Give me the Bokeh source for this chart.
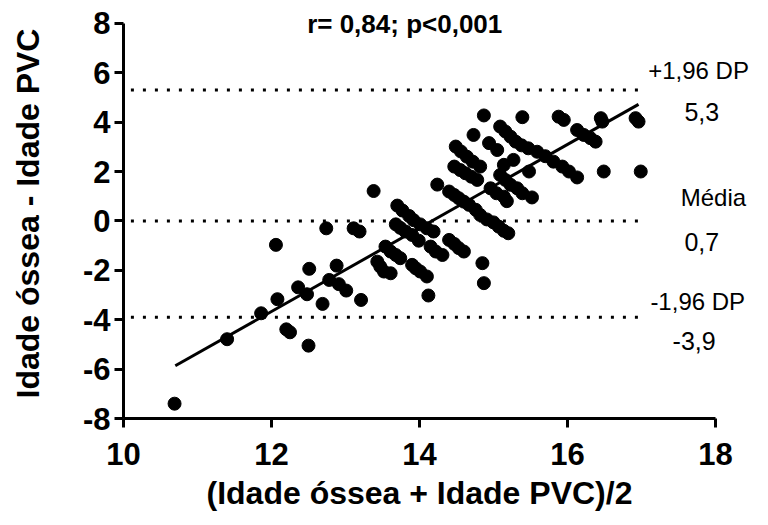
from bokeh.plotting import figure
from bokeh.models import Range1d, Label, FixedTicker, Title
from bokeh.embed import file_html
from bokeh.resources import INLINE

# ---- data ----
x_mean = [
    10.69, 11.40, 11.86, 12.06, 12.08, 12.20, 12.25, 12.36, 12.48, 12.51, 12.50,
    12.74, 12.69, 12.78, 12.88, 12.91, 13.01, 13.11, 13.19, 13.21, 13.38,
    13.43, 13.47, 13.52, 13.61, 13.54, 13.61, 13.68, 13.74,
    13.70, 13.77, 13.86, 13.92, 14.01, 14.10, 14.19,
    13.68, 13.74, 13.81, 13.90, 13.99, 14.15, 14.22, 14.31,
    13.90, 13.95, 14.01, 14.10, 14.12, 14.24,
    14.40, 14.47, 14.53, 14.60, 14.85, 14.87,
    14.40, 14.47, 14.53, 14.60, 14.67, 14.76, 14.82, 14.91,
    15.00, 15.07, 15.14, 15.20,
    14.49, 14.56, 14.64, 14.72, 14.82,
    14.47, 14.55, 14.62, 14.70, 14.78,
    14.73, 14.87, 14.94, 15.05, 14.96, 15.04, 15.14, 15.18, 15.39,
    15.09, 15.16, 15.23, 15.32, 15.39, 15.27, 15.14, 15.48, 15.52,
    15.09, 15.16, 15.23, 15.30, 15.38, 15.47, 15.59, 15.70, 15.81, 15.93, 16.02, 16.13,
    15.88, 15.95, 16.13, 16.22, 16.31, 16.38, 16.45, 16.47, 16.92, 16.96, 16.49, 16.99,
]
y_diff = [
    -7.40, -4.79, -3.74, -0.97, -3.17, -4.39, -4.51, -2.69, -2.97, -1.94, -5.05,
    -0.30, -3.36, -2.39, -1.81, -2.56, -2.82, -0.30, -0.43, -3.20, 1.21,
    -1.65, -1.85, -2.05, -2.12, -1.04, -1.24, -1.38, -1.51,
    0.62, 0.42, 0.20, 0.03, -0.14, -0.30, -0.43,
    -0.14, -0.28, -0.43, -0.57, -0.80, -1.04, -1.24, -1.38,
    -1.78, -1.92, -2.05, -2.25, -3.02, 1.47,
    -0.77, -0.93, -1.10, -1.24, -1.71, -2.52,
    1.19, 1.05, 0.92, 0.78, 0.65, 0.45, 0.24, 0.06,
    -0.06, -0.23, -0.40, -0.50,
    3.01, 2.81, 2.60, 2.40, 2.20,
    2.20, 2.06, 1.93, 1.79, 1.66,
    3.48, 4.27, 3.15, 2.87, 1.32, 1.12, 0.98, 0.80, 4.20,
    1.86, 1.66, 1.46, 1.32, 1.12, 2.47, 2.27, 2.00, 0.95,
    3.82, 3.62, 3.41, 3.21, 3.06, 2.94, 2.80, 2.62, 2.40, 2.20, 2.00, 1.76,
    4.22, 4.09, 3.68, 3.48, 3.35, 3.21, 4.16, 4.02, 4.16, 4.02, 2.00, 2.00,
]
fit_slope = 1.691
fit_intercept = -23.96
fit_x = [10.70, 16.96]

limit_y = [5.3, 0.0, -3.9]
limit_names = ["+1,96 DP", "Média", "-1,96 DP"]
limit_values = ["5,3", "0,7", "-3,9"]

x_ticks = [10, 12, 14, 16, 18]
y_ticks = [-8, -6, -4, -2, 0, 2, 4, 6, 8]
title_text = "r= 0,84; p<0,001"
x_label = "(Idade óssea + Idade PVC)/2"
y_label = "Idade óssea - Idade PVC"

FONT = "Liberation Sans"

p = figure(
    frame_width=629, frame_height=410,
    x_range=Range1d(10, 18.5), y_range=Range1d(-8, 8.6),
    output_backend="svg", toolbar_location=None,
    min_border_left=123, min_border_right=0, min_border_top=8, min_border_bottom=99,
)
p.outline_line_color = None
p.grid.visible = False
p.background_fill_color = "white"
p.border_fill_color = "white"

for ax, ticks, bounds in ((p.xaxis[0], x_ticks, (10, 18)), (p.yaxis[0], y_ticks, (-8, 8))):
    ax.ticker = FixedTicker(ticks=ticks)
    ax.bounds = bounds
    ax.major_label_overrides = {t: str(t) for t in ticks}
    ax.axis_line_width = 3
    ax.axis_line_color = "black"
    ax.major_tick_line_width = 3
    ax.major_tick_line_color = "black"
    ax.major_tick_in = 0
    ax.major_tick_out = 9
    ax.minor_tick_line_color = None
    ax.major_label_text_font = FONT
    ax.major_label_text_font_style = "bold"
    ax.major_label_text_font_size = "31px"
    ax.major_label_text_color = "black"
    ax.axis_label_text_font = FONT
    ax.axis_label_text_font_style = "bold"
    ax.axis_label_text_font_size = "32px"
    ax.axis_label_text_color = "black"

p.yaxis[0].axis_label = y_label
p.xaxis[0].major_label_standoff = 15
p.yaxis[0].major_label_standoff = 4
p.yaxis[0].axis_label_standoff = 34

# x-axis title, centred under the 10..18 axis span (frame extends further right)
p.add_layout(Title(text=x_label, align="left", offset=83, standoff=10,
                   text_font=FONT, text_font_size="32px", text_font_style="bold",
                   text_color="black"), "below")

# limit lines (dotted)
p.segment(x0=[10.1] * len(limit_y), y0=limit_y, x1=[17.0] * len(limit_y), y1=limit_y,
          line_color="black", line_width=3, line_dash="3 9")

# regression line
p.line(fit_x, [fit_intercept + fit_slope * x for x in fit_x], line_color="black", line_width=3)

# points
p.scatter(x_mean, y_diff, size=13, color="black")

# annotations
name_x = [17.09, 17.53, 17.12]
value_x = [17.58, 17.58, 17.42]
name_dy = [20, 23, 16]
value_dy = [-22, -21, -24]
for yy, nm, vv, nx, vx, ndy, vdy in zip(limit_y, limit_names, limit_values, name_x, value_x, name_dy, value_dy):
    p.add_layout(Label(x=nx, y=yy, y_offset=ndy, text=nm, text_font=FONT, text_font_size="24px",
                       text_color="black", text_baseline="alphabetic", text_align="left"))
    p.add_layout(Label(x=vx, y=yy, y_offset=vdy, text=vv, text_font=FONT, text_font_size="25px",
                       text_color="black", text_baseline="alphabetic", text_align="left"))

p.add_layout(Label(x=13.80, y=8, y_offset=-1, text=title_text, text_font=FONT,
                   text_font_size="26px", text_font_style="bold", text_color="black",
                   text_baseline="alphabetic", text_align="center"))

open("out.html", "w").write(file_html(p, INLINE))
